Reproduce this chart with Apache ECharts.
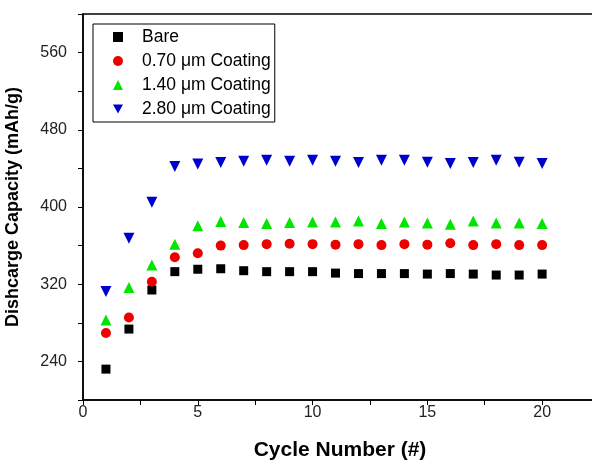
<!DOCTYPE html>
<html>
<head>
<meta charset="utf-8">
<script src="https://cdn.jsdelivr.net/npm/echarts@6/dist/echarts.min.js"></script>
<style>
html, body { margin: 0; padding: 0; background: #fff; }
#chart { width: 592px; height: 462px; }
</style>
</head>
<body>
<div id="chart"></div>
<script>
var cycles = [1, 2, 3, 4, 5, 6, 7, 8, 9, 10, 11, 12, 13, 14, 15, 16, 17, 18, 19, 20];
var seriesNames = ['Bare', '0.70 \u03bcm Coating', '1.40 \u03bcm Coating', '2.80 \u03bcm Coating'];
var bare = [232, 273.5, 314, 333, 335.5, 336, 334, 333, 333, 333, 331.5, 331, 331, 331, 330.5, 331, 330.5, 329.5, 329.5, 330.5];
var coat070 = [269.5, 285.5, 322.5, 348, 352, 360, 360.5, 361.5, 362, 361.5, 361, 361.5, 360.5, 361.5, 361, 362.5, 360.5, 361.5, 360.5, 360.5];
var coat140 = [283, 316.5, 340, 361.5, 380.5, 385, 384, 383, 384, 384.5, 384.5, 385.5, 383, 384.5, 383.5, 382, 385.5, 383.5, 383.5, 383];
var coat280 = [312.5, 367.5, 405, 442, 444.5, 446, 447.5, 448.5, 447.5, 448.5, 447.5, 446, 448.5, 448.5, 446.5, 445, 446, 448.5, 446.5, 445];
var yLabels = [240, 320, 400, 480, 560];
var xLabels = [0, 5, 10, 15, 20];

function pairs(vals) {
    var out = [];
    for (var i = 0; i < cycles.length; i++) {
        out.push([cycles[i], vals[i]]);
    }
    return out;
}

var font = 'Liberation Sans, Arial, sans-serif';
/*inverted triangle for the legend, series uses symbolRotate*/
var downTri = 'path://M0,0 L10,0 L5,9 Z';
var myChart = echarts.init(document.getElementById('chart'));
var option = {
    animation: false,
    backgroundColor: '#fff',
    grid: {
        left: 83, right: -19, top: 14, bottom: 62,
        outerBoundsMode: 'none',
        containLabel: false,
        show: true, borderColor: '#000', borderWidth: 1.5
    },
    legend: {
        left: 93, top: 24,
        orient: 'vertical',
        itemWidth: 10, itemHeight: 10, itemGap: 6,
        padding: [4, 4, 4, 20],
        borderColor: '#000', borderWidth: 1,
        backgroundColor: '#fff',
        textStyle: { fontFamily: font, fontSize: 17.5, color: '#000', lineHeight: 17, padding: [0, 0, 0, 14] },
        data: [
            { name: seriesNames[0] },
            { name: seriesNames[1] },
            { name: seriesNames[2] },
            { name: seriesNames[3], icon: downTri }
        ]
    },
    xAxis: {
        type: 'value', min: 0, max: 23, interval: 5,
        name: 'Cycle Number (#)', nameLocation: 'middle', nameGap: 40,
        nameTextStyle: { fontFamily: font, fontSize: 21, fontWeight: 'bold', color: '#000', padding: [0, 14, 0, 0] },
        axisLine: { lineStyle: { color: '#000', width: 1.5 } },
        axisTick: { length: 5, lineStyle: { color: '#000', width: 1 } },
        minorTick: { show: true, splitNumber: 2, length: 5, lineStyle: { color: '#000', width: 1 } },
        splitLine: { show: false },
        axisLabel: {
            fontFamily: font, fontSize: 16, color: '#222', margin: 5,
            formatter: function (v) { return xLabels.indexOf(v) >= 0 ? String(v) : ''; }
        }
    },
    yAxis: {
        type: 'value', min: 200, max: 600, interval: 40,
        name: 'Dishcarge Capacity (mAh/g)', nameLocation: 'middle', nameGap: 61,
        nameTextStyle: { fontFamily: font, fontSize: 18, fontWeight: 'bold', color: '#000' },
        axisLine: { show: true, lineStyle: { color: '#000', width: 1.5 } },
        axisTick: { show: true, length: 5, lineStyle: { color: '#000', width: 1 } },
        splitLine: { show: false },
        axisLabel: {
            fontFamily: font, fontSize: 16, color: '#222', margin: 16,
            formatter: function (v) { return yLabels.indexOf(v) >= 0 ? String(v) : ''; }
        }
    },
    series: [
        {
            name: seriesNames[0], type: 'scatter', symbol: 'rect', symbolSize: 9,
            itemStyle: { color: '#000000', opacity: 1 }, data: pairs(bare)
        },
        {
            name: seriesNames[1], type: 'scatter', symbol: 'circle', symbolSize: 10,
            itemStyle: { color: '#ee0000', opacity: 1 }, data: pairs(coat070)
        },
        {
            name: seriesNames[2], type: 'scatter', symbol: 'triangle', symbolSize: 11,
            itemStyle: { color: '#00e600', opacity: 1 }, data: pairs(coat140)
        },
        {
            name: seriesNames[3], type: 'scatter', symbol: 'triangle', symbolRotate: 180, symbolSize: 11,
            itemStyle: { color: '#0000cc', opacity: 1 }, data: pairs(coat280)
        }
    ]
};
myChart.setOption(option);
</script>
</body>
</html>
